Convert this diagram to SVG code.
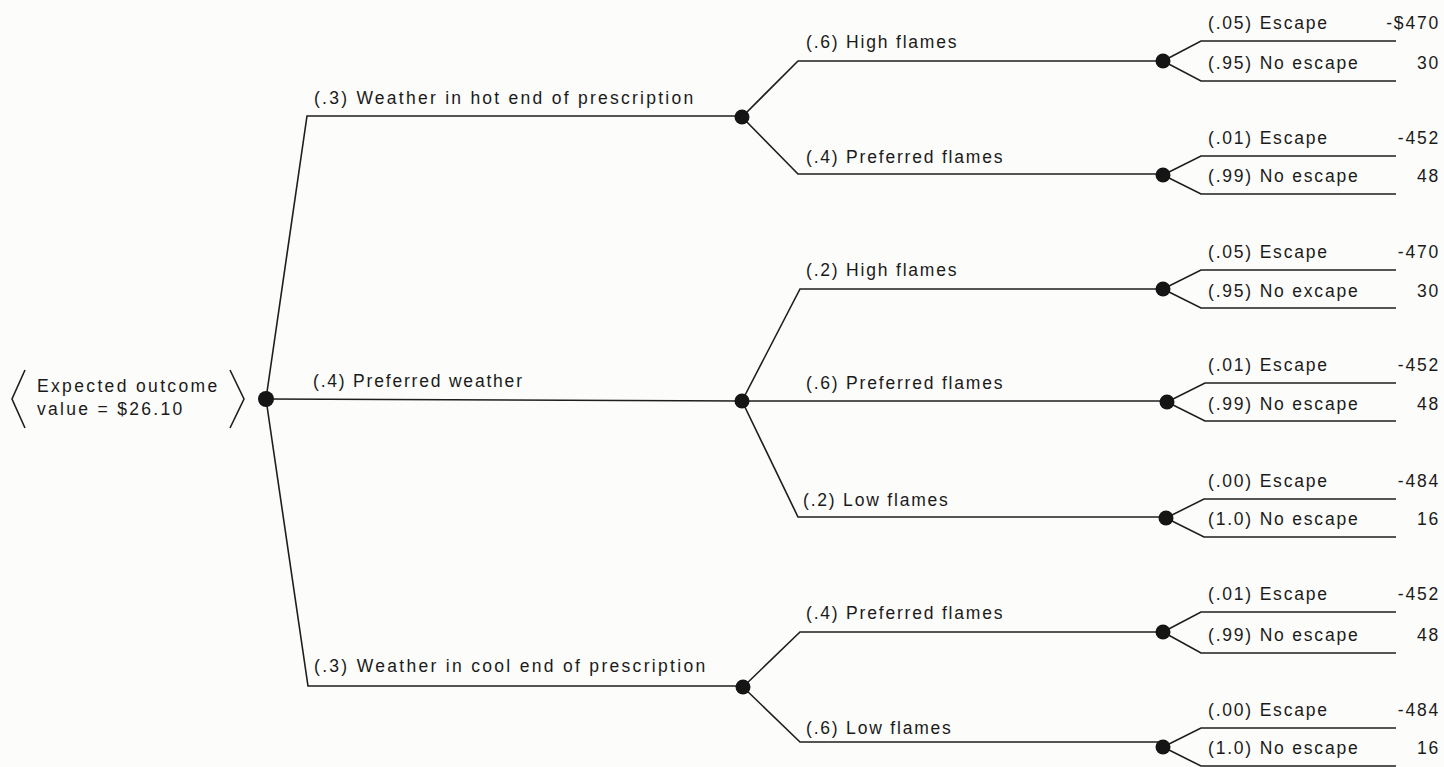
<svg xmlns="http://www.w3.org/2000/svg" width="1444" height="767" viewBox="0 0 1444 767">
  <style>
    .edge { fill: none; stroke: #1e1e1e; stroke-width: 1.6; stroke-linejoin: miter; }
    .node { fill: #151515; }
    text { font-family: "Liberation Sans", Arial, sans-serif; font-size: 17.5px; fill: #1a1a1a; letter-spacing: 1.8px; }
    .val { text-anchor: end; }
  </style>
  <rect width="1444" height="767" fill="#fcfcfa"/>

  <!-- Branches of the tree and their probability labels -->
  <g id="connectors">
    <!-- first stage: weather -->
    <path class="edge" d="M266 399 L307 116 H742"/>
    <path class="edge" d="M266 399 L742 401"/>
    <path class="edge" d="M266 399 L308 686 H743"/>
    <text x="314" y="104" textLength="381" lengthAdjust="spacing">(.3) Weather in hot end of prescription</text>
    <text x="313" y="387">(.4) Preferred weather</text>
    <text x="314" y="672" textLength="393" lengthAdjust="spacing">(.3) Weather in cool end of prescription</text>

    <!-- second stage: flame behaviour -->
    <path class="edge" d="M742 117 L798 61 H1163"/>
    <path class="edge" d="M742 117 L798 174 H1163"/>
    <path class="edge" d="M742 401 L800 289 H1163"/>
    <path class="edge" d="M742 401 H1167"/>
    <path class="edge" d="M742 401 L798 517 H1166"/>
    <path class="edge" d="M743 687 L800 632 H1163"/>
    <path class="edge" d="M743 687 L800 742 H1163"/>
    <text x="806" y="48">(.6) High flames</text>
    <text x="806" y="163">(.4) Preferred flames</text>
    <text x="806" y="276">(.2) High flames</text>
    <text x="806" y="389">(.6) Preferred flames</text>
    <text x="803" y="506">(.2) Low flames</text>
    <text x="806" y="619">(.4) Preferred flames</text>
    <text x="806" y="734">(.6) Low flames</text>

    <!-- third stage: escape outcomes -->
    <path class="edge" d="M1163 61 L1201 41 H1396 M1163 61 L1201 81 H1396"/>
    <path class="edge" d="M1163 175 L1201 156 H1396 M1163 175 L1201 194 H1396"/>
    <path class="edge" d="M1163 289 L1201 270 H1396 M1163 289 L1201 308 H1396"/>
    <path class="edge" d="M1167 402 L1205 383 H1396 M1167 402 L1205 421 H1396"/>
    <path class="edge" d="M1166 518 L1204 499 H1396 M1166 518 L1204 537 H1396"/>
    <path class="edge" d="M1163 632 L1201 612 H1396 M1163 632 L1201 653 H1396"/>
    <path class="edge" d="M1163 747 L1201 728 H1396 M1163 747 L1201 766 H1396"/>
  </g>

  <!-- Root: expected value -->
  <g id="root">
    <path class="edge" d="M25 370 L12 399 L25 428"/>
    <path class="edge" d="M230 370 L244 399 L230 428"/>
    <text x="37" y="392" textLength="182" lengthAdjust="spacing">Expected outcome</text>
    <text x="37" y="415" textLength="147" lengthAdjust="spacing">value = $26.10</text>
    <circle class="node" cx="266" cy="399" r="8"/>
  </g>

  <!-- Chance nodes -->
  <g id="hot-weather"><circle class="node" cx="742" cy="117" r="7.5"/></g>
  <g id="preferred-weather"><circle class="node" cx="742" cy="401" r="7.5"/></g>
  <g id="cool-weather"><circle class="node" cx="743" cy="687" r="7.5"/></g>

  <g id="hot-high-flames"><circle class="node" cx="1163" cy="61" r="7.5"/></g>
  <g id="hot-preferred-flames"><circle class="node" cx="1163" cy="175" r="7.5"/></g>
  <g id="pref-high-flames"><circle class="node" cx="1163" cy="289" r="7.5"/></g>
  <g id="pref-preferred-flames"><circle class="node" cx="1167" cy="402" r="7.5"/></g>
  <g id="pref-low-flames"><circle class="node" cx="1166" cy="518" r="7.5"/></g>
  <g id="cool-preferred-flames"><circle class="node" cx="1163" cy="632" r="7.5"/></g>
  <g id="cool-low-flames"><circle class="node" cx="1163" cy="747" r="7.5"/></g>

  <!-- Outcomes with payoffs -->
  <g id="out-1"><text x="1208" y="29">(.05) Escape</text><text class="val" x="1440" y="29">-$470</text></g>
  <g id="out-2"><text x="1208" y="69">(.95) No escape</text><text class="val" x="1440" y="69">30</text></g>
  <g id="out-3"><text x="1208" y="144">(.01) Escape</text><text class="val" x="1440" y="144">-452</text></g>
  <g id="out-4"><text x="1208" y="182">(.99) No escape</text><text class="val" x="1440" y="182">48</text></g>
  <g id="out-5"><text x="1208" y="258">(.05) Escape</text><text class="val" x="1440" y="258">-470</text></g>
  <g id="out-6"><text x="1208" y="297">(.95) No excape</text><text class="val" x="1440" y="297">30</text></g>
  <g id="out-7"><text x="1208" y="371">(.01) Escape</text><text class="val" x="1440" y="371">-452</text></g>
  <g id="out-8"><text x="1208" y="410">(.99) No escape</text><text class="val" x="1440" y="410">48</text></g>
  <g id="out-9"><text x="1208" y="487">(.00) Escape</text><text class="val" x="1440" y="487">-484</text></g>
  <g id="out-10"><text x="1208" y="525">(1.0) No escape</text><text class="val" x="1440" y="525">16</text></g>
  <g id="out-11"><text x="1208" y="600">(.01) Escape</text><text class="val" x="1440" y="600">-452</text></g>
  <g id="out-12"><text x="1208" y="641">(.99) No escape</text><text class="val" x="1440" y="641">48</text></g>
  <g id="out-13"><text x="1208" y="716">(.00) Escape</text><text class="val" x="1440" y="716">-484</text></g>
  <g id="out-14"><text x="1208" y="754">(1.0) No escape</text><text class="val" x="1440" y="754">16</text></g>
</svg>
